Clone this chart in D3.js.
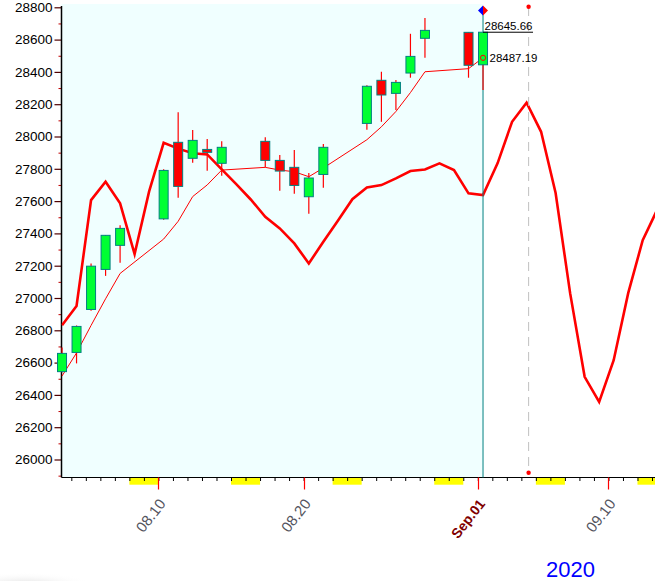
<!DOCTYPE html>
<html><head><meta charset="utf-8">
<script src="https://cdn.jsdelivr.net/npm/d3@7"></script>
<style>html,body{margin:0;padding:0;background:#fff;overflow:hidden;} svg{display:block;}</style>
</head><body>
<script>
// ---- data ----
const candleDates = ["2020-08-03","2020-08-04","2020-08-05","2020-08-06","2020-08-07",
  "2020-08-10","2020-08-11","2020-08-12","2020-08-13","2020-08-14",
  "2020-08-17","2020-08-18","2020-08-19","2020-08-20","2020-08-21",
  "2020-08-24","2020-08-25","2020-08-26","2020-08-27","2020-08-28",
  "2020-08-31","2020-09-01"];
const opens  = [26544,26663,26929,27177,27326, 27490,27964,27865,27920,27834, 27970,27852,27809,27627,27765, 28081,28348,28267,28393,28608, 28645,28444];
const highs  = [26693,26830,27214,27390,27450, 27797,28150,28040,27984,27970, 27996,27885,27916,27774,27953, 28318,28401,28350,28636,28734, 28645,28645.66];
const lows   = [26540,26595,26921,27137,27218, 27484,27621,27837,27788,27757, 27809,27664,27645,27521,27682, 28042,28091,28164,28364,28488, 28364,28288];
const closes = [26657,26824,27197,27388,27431, 27790,27691,27976,27902,27933, 27852,27786,27697,27743,27933, 28311,28257,28335,28496,28657, 28441,28645.66];
// thin red average line (one value per trading day)
const avgValues = [26517,26660,26830,26995,27152, 27365,27475,27628,27700,27792, 27809,27792,27782,27751,27805, 27980,28060,28155,28272,28401, 28420,28487.19];
// thick red cycle line, one value per calendar day from Aug 3 to Sep 13
const cycleStart = "2020-08-03";
const cycleValues = [26831,26951,27606,27720,27586,27272,27660,27961,27925,27896,27889,27796,27705,27610,
  27503,27431,27338,27214,27348,27478,27612,27685,27699,27741,27786,27796,27834,27792,27648,27637,
  27834,28091,28209,28029,27650,27030,26512,26357,26615,27030,27358,27547];
const yTickValues = [26000,26200,26400,26600,26800,27000,27200,27400,27600,27800,28000,28200,28400,28600,28800];
const yMinorValues = [25900,26100,26300,26500,26700,26900,27100,27300,27500,27700,27900,28100,28300,28500,28700];
const xLabelDates = ["2020-08-10","2020-08-20","2020-09-01","2020-09-10"];
const xLabels = ["08.10","08.20","Sep.01","09.10"];
const weekendStarts = ["2020-08-08","2020-08-15","2020-08-22","2020-08-29","2020-09-05","2020-09-12"];
const markerDate = "2020-09-04";
const lastCloseLabel = "28645.66", lastAvgLabel = "28487.19";
const yearLabel = "2020";

// ---- layout ----
const W = 655, H = 581;
const plotL = 61.5, plotR = 655, plotT = 4, plotB = 477.5;
const parse = d3.timeParse("%Y-%m-%d");

const svg = d3.select("body").append("svg").attr("width", W).attr("height", H)
  .style("font-family", "Arial, 'Liberation Sans', sans-serif");

const x = d3.scaleTime().domain([parse("2020-08-03"), parse("2020-09-01")]).range([56.8, 477.8]);
const dayW = x(parse("2020-08-04")) - x(parse("2020-08-03"));
const cx = d => x(d) + dayW * 0.36;
const y = d3.scaleLinear().domain([26000, 28800]).range([459.5, 7.3]);

// bottom-left soft shadow
const defs = svg.append("defs");
const rg = defs.append("radialGradient").attr("id", "sh");
rg.append("stop").attr("offset", "0%").attr("stop-color", "#d8d8d8");
rg.append("stop").attr("offset", "100%").attr("stop-color", "#ffffff").attr("stop-opacity", 0);
svg.append("ellipse").attr("cx", 25).attr("cy", 586).attr("rx", 70).attr("ry", 14).attr("fill", "url(#sh)");
defs.append("clipPath").attr("id", "clip").append("rect")
  .attr("x", plotL).attr("y", 0).attr("width", plotR - plotL).attr("height", plotB);

const lastDate = parse(candleDates[candleDates.length - 1]);
// shaded history area
svg.append("rect").attr("x", plotL).attr("y", plotT)
  .attr("width", cx(lastDate) - plotL).attr("height", plotB - plotT).attr("fill", "#f0ffff");

// weekend blocks
svg.selectAll("rect.we").data(weekendStarts).join("rect").attr("class", "we")
  .attr("x", d => x(parse(d)))
  .attr("width", d => Math.min(plotR, x(d3.timeDay.offset(parse(d), 2))) - x(parse(d)))
  .attr("y", plotB).attr("height", 7.2).attr("fill", "#ffff00");

// x axis minor ticks
const allDays = d3.timeDay.range(parse("2020-08-04"), parse("2020-09-14"));
const xAxis = d3.axisBottom(x).tickValues(allDays.filter(d => x(d) <= plotR)).tickSize(3.5).tickFormat("");
const gx = svg.append("g").attr("transform", `translate(0,${plotB})`).call(xAxis);
gx.select(".domain").remove();
gx.selectAll(".tick line").attr("stroke", "#000");
svg.append("line").attr("x1", plotL).attr("x2", plotR).attr("y1", plotB).attr("y2", plotB)
  .attr("stroke", "#000").attr("stroke-width", 1);

// major x ticks + labels
xLabelDates.forEach((ds, i) => {
  const d = parse(ds), xx = Math.round(x(d)) + 0.5;
  svg.append("line").attr("x1", xx).attr("x2", xx).attr("y1", plotB).attr("y2", plotB + 12)
    .attr("stroke", "#ff0000").attr("stroke-width", 1.2);
  const isMonth = xLabels[i].startsWith("Sep");
  svg.append("text").attr("transform", `translate(${x(d) + 8},${plotB + 26.5}) rotate(-52)`)
    .attr("text-anchor", "end")
    .attr("font-size", isMonth ? 14 : 15)
    .attr("font-weight", isMonth ? "bold" : "normal")
    .attr("fill", isMonth ? "#800000" : "#55555f")
    .text(xLabels[i]);
});

// y axis
const gyMinor = svg.append("g").attr("transform", `translate(${plotL},0)`)
  .call(d3.axisLeft(y).tickValues(yMinorValues).tickSize(3).tickFormat(""));
gyMinor.select(".domain").remove();
gyMinor.selectAll(".tick line").attr("stroke", "#c00000");
const gy = svg.append("g").attr("transform", `translate(${plotL},0)`)
  .call(d3.axisLeft(y).tickValues(yTickValues).tickSize(7).tickPadding(2).tickFormat(d3.format("d")));
gy.select(".domain").remove();
gy.selectAll(".tick line").attr("stroke", "#500000").attr("stroke-width", 1.2);
gy.selectAll(".tick text").attr("font-size", 13.5).attr("fill", "#000")
  .attr("font-family", "Arial, 'Liberation Sans', sans-serif");
svg.append("line").attr("x1", plotL).attr("x2", plotL).attr("y1", 6).attr("y2", plotB)
  .attr("stroke", "#000").attr("stroke-width", 1.5);

// thin average line
const avgData = candleDates.map((d, i) => ({ d: parse(d), v: avgValues[i] }));
svg.append("path").datum(avgData)
  .attr("d", d3.line().x(p => cx(p.d)).y(p => y(p.v)))
  .attr("fill", "none").attr("stroke", "#ff0000").attr("stroke-width", 1);

// thick cycle line
const cycData = cycleValues.map((v, i) => ({ d: d3.timeDay.offset(parse(cycleStart), i), v }));
svg.append("path").datum(cycData).attr("clip-path", "url(#clip)")
  .attr("d", d3.line().x(p => cx(p.d)).y(p => y(p.v)))
  .attr("fill", "none").attr("stroke", "#ff0000").attr("stroke-width", 2.6).attr("stroke-linejoin", "miter");

// vertical "today" line
svg.append("line").attr("x1", cx(lastDate)).attr("x2", cx(lastDate)).attr("y1", 8).attr("y2", plotB)
  .attr("stroke", "#008080").attr("stroke-width", 1);

// dashed marker line
const mx = x(d3.timeHour.offset(parse(markerDate), 12));
svg.append("line").attr("x1", mx).attr("x2", mx).attr("y1", 7).attr("y2", 473)
  .attr("stroke", "#c0c0c0").attr("stroke-width", 1).attr("stroke-dasharray", "9,6");
[6.7, 472.7].forEach(yy => svg.append("circle").attr("cx", mx).attr("cy", yy).attr("r", 2.2).attr("fill", "#ff0000"));

// candles
const candles = candleDates.map((d, i) => ({ d: parse(d), o: opens[i], h: highs[i], l: lows[i], c: closes[i] }));
const g = svg.append("g");
g.selectAll("line.wick").data(candles).join("line").attr("class", "wick")
  .attr("x1", p => cx(p.d)).attr("x2", p => cx(p.d))
  .attr("y1", p => y(p.h)).attr("y2", p => y(p.l))
  .attr("stroke", "#ff0000").attr("stroke-width", 1.2);
g.selectAll("rect.body").data(candles).join("rect").attr("class", "body")
  .attr("x", p => cx(p.d) - 4.5).attr("width", 9)
  .attr("y", p => y(Math.max(p.o, p.c)))
  .attr("height", p => Math.max(1.5, Math.abs(y(p.o) - y(p.c))))
  .attr("fill", p => p.c >= p.o ? "#00ff33" : "#ff0000")
  .attr("stroke", "#008080").attr("stroke-width", 1);

// last close line and labels
const lc = closes[closes.length - 1];
svg.append("line").attr("x1", cx(lastDate)).attr("x2", cx(lastDate) + 50)
  .attr("y1", y(lc)).attr("y2", y(lc)).attr("stroke", "#000").attr("stroke-width", 1);
svg.append("text").attr("x", cx(lastDate) + 1.5).attr("y", y(lc) - 2.5)
  .attr("font-size", 11.5).attr("fill", "#000").text(lastCloseLabel);
const la = avgValues[avgValues.length - 1];
svg.append("circle").attr("cx", cx(lastDate)).attr("cy", y(la)).attr("r", 2.6)
  .attr("fill", "none").attr("stroke", "#ff0000").attr("stroke-width", 1);
svg.append("text").attr("x", cx(lastDate) + 6.5).attr("y", y(la) + 4.5)
  .attr("font-size", 11.5).attr("fill", "#000").text(lastAvgLabel);

// diamond marker
const dx0 = cx(lastDate), dy0 = 10.5;
svg.append("path").attr("d", `M${dx0 - 5},${dy0} L${dx0},${dy0 - 5} L${dx0},${dy0 + 5} Z`).attr("fill", "#0000ff");
svg.append("path").attr("d", `M${dx0},${dy0 - 5} L${dx0 + 5},${dy0} L${dx0},${dy0 + 5} Z`).attr("fill", "#ff0000");

// year label
svg.append("text").attr("x", 546).attr("y", 577).attr("font-size", 22).attr("fill", "#0000ff").text(yearLabel);
</script>
</body></html>
